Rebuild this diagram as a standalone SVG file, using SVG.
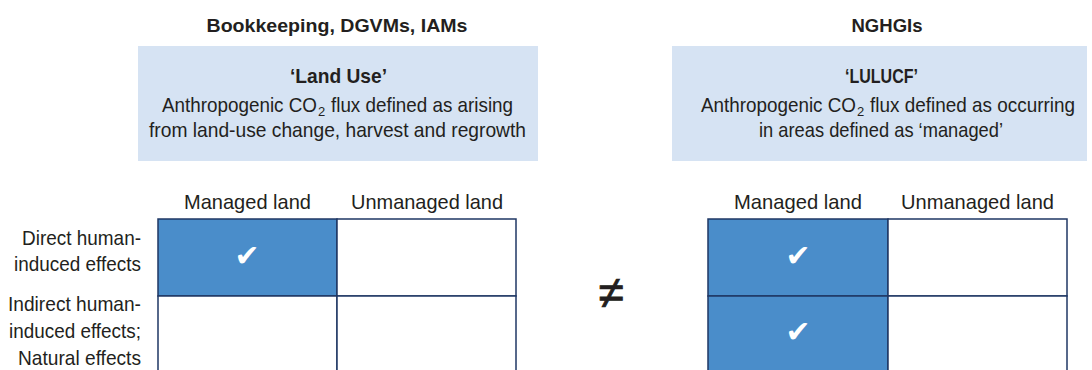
<svg xmlns="http://www.w3.org/2000/svg" width="1092" height="370" viewBox="0 0 1092 370">
<style>
text{font-family:"Liberation Sans",Arial,sans-serif;fill:#231F20;}
.t{font-size:18.5px;font-weight:bold;text-anchor:middle;}
.h{font-size:21px;font-weight:bold;text-anchor:middle;}
.b{font-size:21px;text-anchor:middle;}
.s{font-size:21px;text-anchor:start;}
.c{font-size:21px;text-anchor:middle;}
.r{font-size:21px;text-anchor:end;}
.box{fill:#D6E3F3;}
.on{fill:#4A8DCA;stroke:#1F3764;stroke-width:1.5;}
.off{fill:#FFFFFF;stroke:#1F3764;stroke-width:1.5;}
.chk{font-family:"DejaVu Sans",sans-serif;font-size:30px;fill:#FFFFFF;text-anchor:middle;}
.sub{font-size:13px;text-anchor:start;}
</style>
<g id="left-title"><text class="t" x="337" y="32" textLength="261" lengthAdjust="spacingAndGlyphs">Bookkeeping, DGVMs, IAMs</text></g>
<g id="right-title"><text class="t" x="887" y="32" textLength="71" lengthAdjust="spacingAndGlyphs">NGHGIs</text></g>
<g id="left-box">
<rect class="box" x="138" y="46" width="400" height="115"/>
<text class="h" x="338.5" y="83" textLength="97" lengthAdjust="spacingAndGlyphs">‘Land Use’</text>
<text class="s" x="162" y="111.5" textLength="155" lengthAdjust="spacingAndGlyphs">Anthropogenic CO</text>
<text class="sub" x="318" y="115.5">2</text>
<text class="s" x="331" y="111.5" textLength="182" lengthAdjust="spacingAndGlyphs">flux defined as arising</text>
<text class="b" x="337.5" y="137" textLength="377" lengthAdjust="spacingAndGlyphs">from land-use change, harvest and regrowth</text>
</g>
<g id="right-box">
<rect class="box" x="672" y="46" width="415" height="115"/>
<text class="h" x="881.5" y="83" textLength="73" lengthAdjust="spacingAndGlyphs">‘LULUCF’</text>
<text class="s" x="701" y="111.5" textLength="155" lengthAdjust="spacingAndGlyphs">Anthropogenic CO</text>
<text class="sub" x="857" y="115.5">2</text>
<text class="s" x="870" y="111.5" textLength="205" lengthAdjust="spacingAndGlyphs">flux defined as occurring</text>
<text class="b" x="881" y="137" textLength="244" lengthAdjust="spacingAndGlyphs">in areas defined as ‘managed’</text>
</g>
<g id="row-labels">
<text class="r" x="141" y="245" textLength="119" lengthAdjust="spacingAndGlyphs">Direct human-</text>
<text class="r" x="141" y="271" textLength="127" lengthAdjust="spacingAndGlyphs">induced effects</text>
<text class="r" x="141" y="311" textLength="133" lengthAdjust="spacingAndGlyphs">Indirect human-</text>
<text class="r" x="141" y="338" textLength="132" lengthAdjust="spacingAndGlyphs">induced effects;</text>
<text class="r" x="141" y="365" textLength="123" lengthAdjust="spacingAndGlyphs">Natural effects</text>
</g>
<g id="left-grid">
<text class="c" x="247.5" y="209" textLength="127" lengthAdjust="spacingAndGlyphs">Managed land</text>
<text class="c" x="427" y="209" textLength="152" lengthAdjust="spacingAndGlyphs">Unmanaged land</text>
<rect class="on" x="158" y="219" width="179" height="77"/>
<rect class="off" x="337" y="219" width="179" height="77"/>
<rect class="off" x="158" y="296" width="179" height="77"/>
<rect class="off" x="337" y="296" width="179" height="77"/>
<text class="chk" x="247" y="266">✔</text>
</g>
<g id="not-equal"><text x="611" y="308" style="font-size:46px;text-anchor:middle;stroke:#231F20;stroke-width:0.8;">≠</text></g>
<g id="right-grid">
<text class="c" x="798" y="209" textLength="128" lengthAdjust="spacingAndGlyphs">Managed land</text>
<text class="c" x="977.5" y="209" textLength="153" lengthAdjust="spacingAndGlyphs">Unmanaged land</text>
<rect class="on" x="708" y="219" width="180" height="77"/>
<rect class="off" x="888" y="219" width="179" height="77"/>
<rect class="on" x="708" y="296" width="180" height="77"/>
<rect class="off" x="888" y="296" width="179" height="77"/>
<text class="chk" x="798" y="266">✔</text>
<text class="chk" x="798" y="342">✔</text>
</g>
<g id="connectors"></g>
</svg>
